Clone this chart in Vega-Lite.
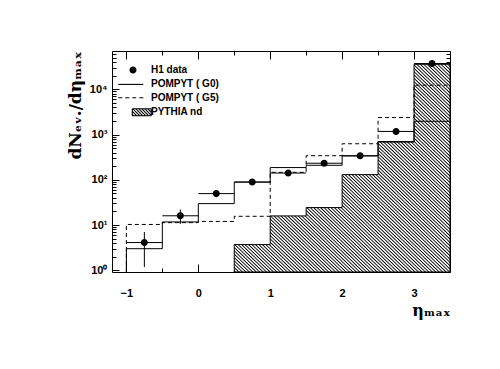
{
  "$schema": "https://vega.github.io/schema/vega-lite/v6.json",
  "width": 338,
  "height": 221,
  "autosize": {"type": "none"},
  "padding": {"left": 112, "top": 51, "right": 50, "bottom": 97},
  "background": "white",
  "config": {
    "view": {"stroke": "black", "strokeWidth": 1},
    "font": "Liberation Sans",
    "axis": {"domain": false, "grid": false, "tickColor": "black", "tickWidth": 1, "labelColor": "black", "titleColor": "black", "labelFont": "Liberation Sans", "labelFontWeight": "bold", "labelFontSize": 11},
    "legend": {"symbolStrokeColor": "black", "symbolStrokeWidth": 1.1}
  },
  "datasets": {
    "h1": [
      {"eta": -0.75, "eta_lo": -1.0, "eta_hi": -0.5, "n": 4.1, "err_lo": 1.18, "err_hi": 7.0, "series": "H1 data"},
      {"eta": -0.25, "eta_lo": -0.5, "eta_hi": 0.0, "n": 16.0, "err_lo": 10.5, "err_hi": 22.0, "series": "H1 data"},
      {"eta": 0.25, "eta_lo": 0.0, "eta_hi": 0.5, "n": 49.5, "err_lo": 45.0, "err_hi": 54.0, "series": "H1 data"},
      {"eta": 0.75, "eta_lo": 0.5, "eta_hi": 1.0, "n": 89, "err_lo": 82, "err_hi": 96, "series": "H1 data"},
      {"eta": 1.25, "eta_lo": 1.0, "eta_hi": 1.5, "n": 141, "err_lo": 131, "err_hi": 151, "series": "H1 data"},
      {"eta": 1.75, "eta_lo": 1.5, "eta_hi": 2.0, "n": 232, "err_lo": 216, "err_hi": 248, "series": "H1 data"},
      {"eta": 2.25, "eta_lo": 2.0, "eta_hi": 2.5, "n": 340, "err_lo": 318, "err_hi": 362, "series": "H1 data"},
      {"eta": 2.75, "eta_lo": 2.5, "eta_hi": 3.0, "n": 1170, "err_lo": 1100, "err_hi": 1240, "series": "H1 data"},
      {"eta": 3.25, "eta_lo": 3.0, "eta_hi": 3.5, "n": 37000, "err_lo": 35000, "err_hi": 39000, "series": "H1 data"}
    ],
    "g0": [
      {"i": 0, "eta": -1.0, "n": 0.917},
      {"i": 1, "eta": -1.0, "n": 3.0},
      {"i": 2, "eta": -0.5, "n": 11.7},
      {"i": 3, "eta": 0.0, "n": 29.7},
      {"i": 4, "eta": 0.5, "n": 89},
      {"i": 5, "eta": 1.0, "n": 186},
      {"i": 6, "eta": 1.5, "n": 209},
      {"i": 7, "eta": 2.0, "n": 336},
      {"i": 8, "eta": 2.5, "n": 700},
      {"i": 9, "eta": 3.0, "n": 1960},
      {"i": 10, "eta": 3.5, "n": 1960}
    ],
    "g5": [
      {"i": 0, "eta": -1.0, "n": 0.917},
      {"i": 1, "eta": -1.0, "n": 10.3},
      {"i": 2, "eta": -0.5, "n": 11.3},
      {"i": 3, "eta": 0.0, "n": 12.0},
      {"i": 4, "eta": 0.5, "n": 15.6},
      {"i": 5, "eta": 1.0, "n": 146},
      {"i": 6, "eta": 1.5, "n": 340},
      {"i": 7, "eta": 2.0, "n": 625},
      {"i": 8, "eta": 2.5, "n": 2370},
      {"i": 9, "eta": 3.0, "n": 12300},
      {"i": 10, "eta": 3.5, "n": 12300}
    ],
    "pythia": [
      {"eta": 0.5, "n": 3.7},
      {"eta": 1.0, "n": 15.9},
      {"eta": 1.5, "n": 24.3},
      {"eta": 2.0, "n": 130},
      {"eta": 2.5, "n": 680},
      {"eta": 3.0, "n": 35600},
      {"eta": 3.5, "n": 35600}
    ]
  },
  "resolve": {"axis": {"x": "independent", "y": "independent"}},
  "layer": [
    {
      "data": {"name": "pythia"},
      "mark": {
        "type": "area", "interpolate": "step-after", "stroke": "black", "strokeWidth": 1,
        "fill": {"gradient": "linear", "x1": 0, "y1": 1, "x2": 1, "y2": 0, "stops": [
{"offset":0.000,"color":"#fff"},{"offset":0.003,"color":"#000"},{"offset":0.006,"color":"#fff"},
{"offset":0.008,"color":"#fff"},{"offset":0.011,"color":"#000"},{"offset":0.014,"color":"#fff"},
{"offset":0.016,"color":"#fff"},{"offset":0.019,"color":"#000"},{"offset":0.022,"color":"#fff"},
{"offset":0.024,"color":"#fff"},{"offset":0.027,"color":"#000"},{"offset":0.030,"color":"#fff"},
{"offset":0.032,"color":"#fff"},{"offset":0.035,"color":"#000"},{"offset":0.038,"color":"#fff"},
{"offset":0.040,"color":"#fff"},{"offset":0.043,"color":"#000"},{"offset":0.046,"color":"#fff"},
{"offset":0.048,"color":"#fff"},{"offset":0.051,"color":"#000"},{"offset":0.054,"color":"#fff"},
{"offset":0.056,"color":"#fff"},{"offset":0.059,"color":"#000"},{"offset":0.062,"color":"#fff"},
{"offset":0.064,"color":"#fff"},{"offset":0.067,"color":"#000"},{"offset":0.070,"color":"#fff"},
{"offset":0.072,"color":"#fff"},{"offset":0.075,"color":"#000"},{"offset":0.078,"color":"#fff"},
{"offset":0.080,"color":"#fff"},{"offset":0.083,"color":"#000"},{"offset":0.086,"color":"#fff"},
{"offset":0.088,"color":"#fff"},{"offset":0.091,"color":"#000"},{"offset":0.094,"color":"#fff"},
{"offset":0.096,"color":"#fff"},{"offset":0.099,"color":"#000"},{"offset":0.102,"color":"#fff"},
{"offset":0.104,"color":"#fff"},{"offset":0.107,"color":"#000"},{"offset":0.110,"color":"#fff"},
{"offset":0.112,"color":"#fff"},{"offset":0.115,"color":"#000"},{"offset":0.118,"color":"#fff"},
{"offset":0.120,"color":"#fff"},{"offset":0.123,"color":"#000"},{"offset":0.126,"color":"#fff"},
{"offset":0.128,"color":"#fff"},{"offset":0.131,"color":"#000"},{"offset":0.134,"color":"#fff"},
{"offset":0.136,"color":"#fff"},{"offset":0.139,"color":"#000"},{"offset":0.142,"color":"#fff"},
{"offset":0.144,"color":"#fff"},{"offset":0.147,"color":"#000"},{"offset":0.150,"color":"#fff"},
{"offset":0.152,"color":"#fff"},{"offset":0.155,"color":"#000"},{"offset":0.158,"color":"#fff"},
{"offset":0.160,"color":"#fff"},{"offset":0.163,"color":"#000"},{"offset":0.166,"color":"#fff"},
{"offset":0.168,"color":"#fff"},{"offset":0.171,"color":"#000"},{"offset":0.174,"color":"#fff"},
{"offset":0.176,"color":"#fff"},{"offset":0.179,"color":"#000"},{"offset":0.182,"color":"#fff"},
{"offset":0.184,"color":"#fff"},{"offset":0.187,"color":"#000"},{"offset":0.190,"color":"#fff"},
{"offset":0.192,"color":"#fff"},{"offset":0.195,"color":"#000"},{"offset":0.198,"color":"#fff"},
{"offset":0.200,"color":"#fff"},{"offset":0.203,"color":"#000"},{"offset":0.206,"color":"#fff"},
{"offset":0.208,"color":"#fff"},{"offset":0.211,"color":"#000"},{"offset":0.214,"color":"#fff"},
{"offset":0.216,"color":"#fff"},{"offset":0.219,"color":"#000"},{"offset":0.222,"color":"#fff"},
{"offset":0.224,"color":"#fff"},{"offset":0.227,"color":"#000"},{"offset":0.230,"color":"#fff"},
{"offset":0.232,"color":"#fff"},{"offset":0.235,"color":"#000"},{"offset":0.238,"color":"#fff"},
{"offset":0.240,"color":"#fff"},{"offset":0.243,"color":"#000"},{"offset":0.246,"color":"#fff"},
{"offset":0.248,"color":"#fff"},{"offset":0.251,"color":"#000"},{"offset":0.254,"color":"#fff"},
{"offset":0.256,"color":"#fff"},{"offset":0.259,"color":"#000"},{"offset":0.262,"color":"#fff"},
{"offset":0.264,"color":"#fff"},{"offset":0.267,"color":"#000"},{"offset":0.270,"color":"#fff"},
{"offset":0.272,"color":"#fff"},{"offset":0.275,"color":"#000"},{"offset":0.278,"color":"#fff"},
{"offset":0.280,"color":"#fff"},{"offset":0.283,"color":"#000"},{"offset":0.286,"color":"#fff"},
{"offset":0.288,"color":"#fff"},{"offset":0.291,"color":"#000"},{"offset":0.294,"color":"#fff"},
{"offset":0.296,"color":"#fff"},{"offset":0.299,"color":"#000"},{"offset":0.302,"color":"#fff"},
{"offset":0.304,"color":"#fff"},{"offset":0.307,"color":"#000"},{"offset":0.310,"color":"#fff"},
{"offset":0.312,"color":"#fff"},{"offset":0.315,"color":"#000"},{"offset":0.318,"color":"#fff"},
{"offset":0.320,"color":"#fff"},{"offset":0.323,"color":"#000"},{"offset":0.326,"color":"#fff"},
{"offset":0.328,"color":"#fff"},{"offset":0.331,"color":"#000"},{"offset":0.334,"color":"#fff"},
{"offset":0.336,"color":"#fff"},{"offset":0.339,"color":"#000"},{"offset":0.342,"color":"#fff"},
{"offset":0.344,"color":"#fff"},{"offset":0.347,"color":"#000"},{"offset":0.350,"color":"#fff"},
{"offset":0.352,"color":"#fff"},{"offset":0.355,"color":"#000"},{"offset":0.358,"color":"#fff"},
{"offset":0.360,"color":"#fff"},{"offset":0.363,"color":"#000"},{"offset":0.366,"color":"#fff"},
{"offset":0.368,"color":"#fff"},{"offset":0.371,"color":"#000"},{"offset":0.374,"color":"#fff"},
{"offset":0.376,"color":"#fff"},{"offset":0.379,"color":"#000"},{"offset":0.382,"color":"#fff"},
{"offset":0.384,"color":"#fff"},{"offset":0.387,"color":"#000"},{"offset":0.390,"color":"#fff"},
{"offset":0.392,"color":"#fff"},{"offset":0.395,"color":"#000"},{"offset":0.398,"color":"#fff"},
{"offset":0.400,"color":"#fff"},{"offset":0.403,"color":"#000"},{"offset":0.406,"color":"#fff"},
{"offset":0.408,"color":"#fff"},{"offset":0.411,"color":"#000"},{"offset":0.414,"color":"#fff"},
{"offset":0.416,"color":"#fff"},{"offset":0.419,"color":"#000"},{"offset":0.422,"color":"#fff"},
{"offset":0.424,"color":"#fff"},{"offset":0.427,"color":"#000"},{"offset":0.430,"color":"#fff"},
{"offset":0.432,"color":"#fff"},{"offset":0.435,"color":"#000"},{"offset":0.438,"color":"#fff"},
{"offset":0.440,"color":"#fff"},{"offset":0.443,"color":"#000"},{"offset":0.446,"color":"#fff"},
{"offset":0.448,"color":"#fff"},{"offset":0.451,"color":"#000"},{"offset":0.454,"color":"#fff"},
{"offset":0.456,"color":"#fff"},{"offset":0.459,"color":"#000"},{"offset":0.462,"color":"#fff"},
{"offset":0.464,"color":"#fff"},{"offset":0.467,"color":"#000"},{"offset":0.470,"color":"#fff"},
{"offset":0.472,"color":"#fff"},{"offset":0.475,"color":"#000"},{"offset":0.478,"color":"#fff"},
{"offset":0.480,"color":"#fff"},{"offset":0.483,"color":"#000"},{"offset":0.486,"color":"#fff"},
{"offset":0.488,"color":"#fff"},{"offset":0.491,"color":"#000"},{"offset":0.494,"color":"#fff"},
{"offset":0.496,"color":"#fff"},{"offset":0.499,"color":"#000"},{"offset":0.502,"color":"#fff"},
{"offset":0.504,"color":"#fff"},{"offset":0.507,"color":"#000"},{"offset":0.510,"color":"#fff"},
{"offset":0.512,"color":"#fff"},{"offset":0.515,"color":"#000"},{"offset":0.518,"color":"#fff"},
{"offset":0.520,"color":"#fff"},{"offset":0.523,"color":"#000"},{"offset":0.526,"color":"#fff"},
{"offset":0.528,"color":"#fff"},{"offset":0.531,"color":"#000"},{"offset":0.534,"color":"#fff"},
{"offset":0.536,"color":"#fff"},{"offset":0.539,"color":"#000"},{"offset":0.542,"color":"#fff"},
{"offset":0.544,"color":"#fff"},{"offset":0.547,"color":"#000"},{"offset":0.550,"color":"#fff"},
{"offset":0.552,"color":"#fff"},{"offset":0.555,"color":"#000"},{"offset":0.558,"color":"#fff"},
{"offset":0.560,"color":"#fff"},{"offset":0.563,"color":"#000"},{"offset":0.566,"color":"#fff"},
{"offset":0.568,"color":"#fff"},{"offset":0.571,"color":"#000"},{"offset":0.574,"color":"#fff"},
{"offset":0.576,"color":"#fff"},{"offset":0.579,"color":"#000"},{"offset":0.582,"color":"#fff"},
{"offset":0.584,"color":"#fff"},{"offset":0.587,"color":"#000"},{"offset":0.590,"color":"#fff"},
{"offset":0.592,"color":"#fff"},{"offset":0.595,"color":"#000"},{"offset":0.598,"color":"#fff"},
{"offset":0.600,"color":"#fff"},{"offset":0.603,"color":"#000"},{"offset":0.606,"color":"#fff"},
{"offset":0.608,"color":"#fff"},{"offset":0.611,"color":"#000"},{"offset":0.614,"color":"#fff"},
{"offset":0.616,"color":"#fff"},{"offset":0.619,"color":"#000"},{"offset":0.622,"color":"#fff"},
{"offset":0.624,"color":"#fff"},{"offset":0.627,"color":"#000"},{"offset":0.630,"color":"#fff"},
{"offset":0.632,"color":"#fff"},{"offset":0.635,"color":"#000"},{"offset":0.638,"color":"#fff"},
{"offset":0.640,"color":"#fff"},{"offset":0.643,"color":"#000"},{"offset":0.646,"color":"#fff"},
{"offset":0.648,"color":"#fff"},{"offset":0.651,"color":"#000"},{"offset":0.654,"color":"#fff"},
{"offset":0.656,"color":"#fff"},{"offset":0.659,"color":"#000"},{"offset":0.662,"color":"#fff"},
{"offset":0.664,"color":"#fff"},{"offset":0.667,"color":"#000"},{"offset":0.670,"color":"#fff"},
{"offset":0.672,"color":"#fff"},{"offset":0.675,"color":"#000"},{"offset":0.678,"color":"#fff"},
{"offset":0.680,"color":"#fff"},{"offset":0.683,"color":"#000"},{"offset":0.686,"color":"#fff"},
{"offset":0.688,"color":"#fff"},{"offset":0.691,"color":"#000"},{"offset":0.694,"color":"#fff"},
{"offset":0.696,"color":"#fff"},{"offset":0.699,"color":"#000"},{"offset":0.702,"color":"#fff"},
{"offset":0.704,"color":"#fff"},{"offset":0.707,"color":"#000"},{"offset":0.710,"color":"#fff"},
{"offset":0.712,"color":"#fff"},{"offset":0.715,"color":"#000"},{"offset":0.718,"color":"#fff"},
{"offset":0.720,"color":"#fff"},{"offset":0.723,"color":"#000"},{"offset":0.726,"color":"#fff"},
{"offset":0.728,"color":"#fff"},{"offset":0.731,"color":"#000"},{"offset":0.734,"color":"#fff"},
{"offset":0.736,"color":"#fff"},{"offset":0.739,"color":"#000"},{"offset":0.742,"color":"#fff"},
{"offset":0.744,"color":"#fff"},{"offset":0.747,"color":"#000"},{"offset":0.750,"color":"#fff"},
{"offset":0.752,"color":"#fff"},{"offset":0.755,"color":"#000"},{"offset":0.758,"color":"#fff"},
{"offset":0.760,"color":"#fff"},{"offset":0.763,"color":"#000"},{"offset":0.766,"color":"#fff"},
{"offset":0.768,"color":"#fff"},{"offset":0.771,"color":"#000"},{"offset":0.774,"color":"#fff"},
{"offset":0.776,"color":"#fff"},{"offset":0.779,"color":"#000"},{"offset":0.782,"color":"#fff"},
{"offset":0.784,"color":"#fff"},{"offset":0.787,"color":"#000"},{"offset":0.790,"color":"#fff"},
{"offset":0.792,"color":"#fff"},{"offset":0.795,"color":"#000"},{"offset":0.798,"color":"#fff"},
{"offset":0.800,"color":"#fff"},{"offset":0.803,"color":"#000"},{"offset":0.806,"color":"#fff"},
{"offset":0.808,"color":"#fff"},{"offset":0.811,"color":"#000"},{"offset":0.814,"color":"#fff"},
{"offset":0.816,"color":"#fff"},{"offset":0.819,"color":"#000"},{"offset":0.822,"color":"#fff"},
{"offset":0.824,"color":"#fff"},{"offset":0.827,"color":"#000"},{"offset":0.830,"color":"#fff"},
{"offset":0.832,"color":"#fff"},{"offset":0.835,"color":"#000"},{"offset":0.838,"color":"#fff"},
{"offset":0.840,"color":"#fff"},{"offset":0.843,"color":"#000"},{"offset":0.846,"color":"#fff"},
{"offset":0.848,"color":"#fff"},{"offset":0.851,"color":"#000"},{"offset":0.854,"color":"#fff"},
{"offset":0.856,"color":"#fff"},{"offset":0.859,"color":"#000"},{"offset":0.862,"color":"#fff"},
{"offset":0.864,"color":"#fff"},{"offset":0.867,"color":"#000"},{"offset":0.870,"color":"#fff"},
{"offset":0.872,"color":"#fff"},{"offset":0.875,"color":"#000"},{"offset":0.878,"color":"#fff"},
{"offset":0.880,"color":"#fff"},{"offset":0.883,"color":"#000"},{"offset":0.886,"color":"#fff"},
{"offset":0.888,"color":"#fff"},{"offset":0.891,"color":"#000"},{"offset":0.894,"color":"#fff"},
{"offset":0.896,"color":"#fff"},{"offset":0.899,"color":"#000"},{"offset":0.902,"color":"#fff"},
{"offset":0.904,"color":"#fff"},{"offset":0.907,"color":"#000"},{"offset":0.910,"color":"#fff"},
{"offset":0.912,"color":"#fff"},{"offset":0.915,"color":"#000"},{"offset":0.918,"color":"#fff"},
{"offset":0.920,"color":"#fff"},{"offset":0.923,"color":"#000"},{"offset":0.926,"color":"#fff"},
{"offset":0.928,"color":"#fff"},{"offset":0.931,"color":"#000"},{"offset":0.934,"color":"#fff"},
{"offset":0.936,"color":"#fff"},{"offset":0.939,"color":"#000"},{"offset":0.942,"color":"#fff"},
{"offset":0.944,"color":"#fff"},{"offset":0.947,"color":"#000"},{"offset":0.950,"color":"#fff"},
{"offset":0.952,"color":"#fff"},{"offset":0.955,"color":"#000"},{"offset":0.958,"color":"#fff"},
{"offset":0.960,"color":"#fff"},{"offset":0.963,"color":"#000"},{"offset":0.966,"color":"#fff"},
{"offset":0.968,"color":"#fff"},{"offset":0.971,"color":"#000"},{"offset":0.974,"color":"#fff"},
{"offset":0.976,"color":"#fff"},{"offset":0.979,"color":"#000"},{"offset":0.982,"color":"#fff"},
{"offset":0.984,"color":"#fff"},{"offset":0.987,"color":"#000"},{"offset":0.990,"color":"#fff"},
{"offset":0.992,"color":"#fff"},{"offset":0.995,"color":"#000"},{"offset":0.998,"color":"#fff"}
        ]}
      },
      "encoding": {
        "x": {"field": "eta", "type": "quantitative", "scale": {"domain": [-1.2, 3.5], "nice": false, "zero": false},
          "axis": {"orient": "bottom", "values": [-1, -0.5, 0, 0.5, 1, 1.5, 2, 2.5, 3, 3.5],
            "labelExpr": "datum.value % 1 == 0 ? format(datum.value, 'd') : ''",
            "tickSize": {"condition": {"test": "datum.value % 1 == 0", "value": -8}, "value": -4},
            "labelPadding": 23, "labelFlush": false,
            "title": "ηₘₐₓ", "titleFont": "DejaVu Serif", "titleFontWeight": "bold", "titleFontSize": 16,
            "titleAnchor": "end", "titlePadding": 4}},
        "y": {"field": "n", "type": "quantitative", "scale": {"type": "log", "domain": [0.917, 70000], "nice": false},
          "axis": {"orient": "left",
            "values": [1,2,3,4,5,6,7,8,9,10,20,30,40,50,60,70,80,90,100,200,300,400,500,600,700,800,900,1000,2000,3000,4000,5000,6000,7000,8000,9000,10000,20000,30000,40000,50000,60000],
            "labelExpr": "datum.value == 1 ? '10⁰' : datum.value == 10 ? '10¹' : datum.value == 100 ? '10²' : datum.value == 1000 ? '10³' : datum.value == 10000 ? '10⁴' : ''",
            "tickSize": {"condition": {"test": "indexof([1,10,100,1000,10000], datum.value) >= 0", "value": -7}, "value": -4},
            "labelPadding": 12, "labelFlush": false,
            "title": "dNₑᵥ./dηₘₐₓ", "titleFont": "DejaVu Serif", "titleFontWeight": "bold", "titleFontSize": 17,
            "titleAnchor": "end", "titlePadding": 5}},
        "y2": {"datum": 0.917}
      }
    },
    {
      "data": {"name": "g5"},
      "mark": {"type": "line", "interpolate": "step-after", "color": "black", "strokeWidth": 1, "strokeDash": [4, 3]},
      "encoding": {
        "x": {"field": "eta", "type": "quantitative", "scale": {"domain": [-1.2, 3.5], "nice": false, "zero": false},
          "axis": {"orient": "top", "values": [-1, -0.5, 0, 0.5, 1, 1.5, 2, 2.5, 3, 3.5], "labels": false, "title": null,
            "tickSize": {"condition": {"test": "datum.value % 1 == 0", "value": -8}, "value": -4}}},
        "y": {"field": "n", "type": "quantitative", "scale": {"type": "log", "domain": [0.917, 70000], "nice": false},
          "axis": {"orient": "right", "labels": false, "title": null,
            "values": [1,2,3,4,5,6,7,8,9,10,20,30,40,50,60,70,80,90,100,200,300,400,500,600,700,800,900,1000,2000,3000,4000,5000,6000,7000,8000,9000,10000,20000,30000,40000,50000,60000],
            "tickSize": {"condition": {"test": "indexof([1,10,100,1000,10000], datum.value) >= 0", "value": -7}, "value": -4}}},
        "order": {"field": "i"}
      }
    },
    {
      "data": {"name": "g0"},
      "mark": {"type": "line", "interpolate": "step-after", "color": "black", "strokeWidth": 1},
      "encoding": {
        "x": {"field": "eta", "type": "quantitative", "scale": {"domain": [-1.2, 3.5], "nice": false, "zero": false}, "axis": null},
        "y": {"field": "n", "type": "quantitative", "scale": {"type": "log", "domain": [0.917, 70000], "nice": false}, "axis": null},
        "order": {"field": "i"}
      }
    },
    {
      "data": {"name": "h1"},
      "mark": {"type": "rule", "color": "black", "strokeWidth": 1},
      "encoding": {
        "x": {"field": "eta", "type": "quantitative", "scale": {"domain": [-1.2, 3.5], "nice": false, "zero": false}, "axis": null},
        "y": {"field": "err_lo", "type": "quantitative", "scale": {"type": "log", "domain": [0.917, 70000], "nice": false}, "axis": null},
        "y2": {"field": "err_hi"}
      }
    },
    {
      "data": {"name": "h1"},
      "mark": {"type": "rule", "color": "black", "strokeWidth": 1},
      "encoding": {
        "x": {"field": "eta_lo", "type": "quantitative", "scale": {"domain": [-1.2, 3.5], "nice": false, "zero": false}, "axis": null},
        "x2": {"field": "eta_hi"},
        "y": {"field": "n", "type": "quantitative", "scale": {"type": "log", "domain": [0.917, 70000], "nice": false}, "axis": null}
      }
    },
    {
      "data": {"name": "h1"},
      "mark": {"type": "point", "filled": false, "color": "black", "strokeWidth": 1.1, "size": 44, "opacity": 1},
      "encoding": {
        "x": {"field": "eta", "type": "quantitative", "scale": {"domain": [-1.2, 3.5], "nice": false, "zero": false}, "axis": null},
        "y": {"field": "n", "type": "quantitative", "scale": {"type": "log", "domain": [0.917, 70000], "nice": false}, "axis": null},
        "shape": {"field": "series", "type": "nominal",
          "scale": {"domain": ["H1 data", "POMPYT ( G0)", "POMPYT ( G5)", "PYTHIA nd"],
            "range": [
              "M-0.9,0A0.9,0.9 0 1,0 0.9,0A0.9,0.9 0 1,0 -0.9,0ZM-0.6,0A0.6,0.6 0 1,0 0.6,0A0.6,0.6 0 1,0 -0.6,0ZM-0.3,0A0.3,0.3 0 1,0 0.3,0A0.3,0.3 0 1,0 -0.3,0ZM-0.06,0A0.06,0.06 0 1,0 0.06,0A0.06,0.06 0 1,0 -0.06,0Z",
              "M-4.43,0H3.1",
              "M-4.43,0H-3.22M-2.32,0H-1.11M-0.21,0H0.99M1.9,0H3.1",
              "M-0.21,-1.05H5.51M5.51,-1.05V1.05M5.51,1.05H-0.21M-0.21,1.05V-1.05M-0.21,0.65L0.19,1.05M-0.21,-0.25L1.09,1.05M-0.11,-1.05L1.99,1.05M0.79,-1.05L2.89,1.05M1.69,-1.05L3.79,1.05M2.59,-1.05L4.69,1.05M3.49,-1.05L5.51,0.97M4.39,-1.05L5.51,0.07M5.29,-1.05L5.51,-0.83"
            ]},
          "legend": {"orient": "none", "legendX": 16, "legendY": 14, "title": null,
            "symbolSize": 44, "symbolStrokeColor": "black", "symbolStrokeWidth": 1.1, "symbolOpacity": 1,
            "labelFont": "Liberation Sans", "labelFontWeight": "bold", "labelFontSize": 10, "labelColor": "black",
            "labelOffset": 13, "rowPadding": 3.4}}
      }
    }
  ]
}
